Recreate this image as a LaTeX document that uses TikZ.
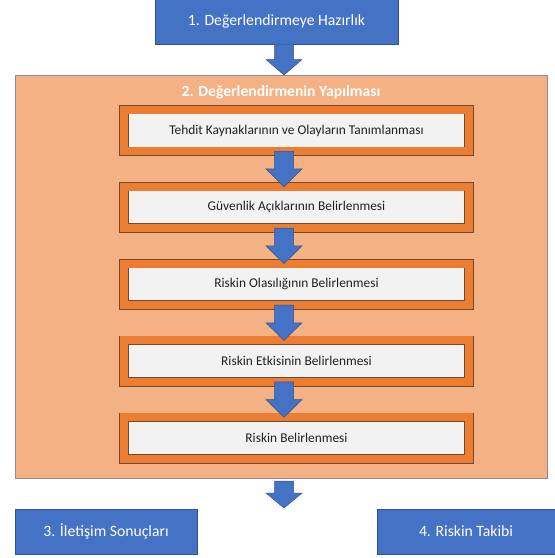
\documentclass[tikz,border=0pt]{standalone}
\usepackage{fontspec}
\setmainfont{Carlito}
\usetikzlibrary{positioning,calc}

\definecolor{phaseblue}{HTML}{4472C4}
\definecolor{phaseedge}{HTML}{2F528F}
\definecolor{peach}{HTML}{F4B183}
\definecolor{peachedge}{HTML}{8C8C8C}
\definecolor{stepframe}{HTML}{ED7D31}
\definecolor{stepedge}{HTML}{6E4B36}
\definecolor{stepfill}{HTML}{F2F2F2}
\definecolor{steptext}{HTML}{202020}

\tikzset{
  phase/.style={draw=phaseedge, line width=0.8pt, fill=phaseblue, text=white,
    font=\fontsize{15.7}{18}\selectfont, outer sep=0pt},
  phasebig/.style={draw=peachedge, line width=0.8pt, fill=peach, outer sep=0pt},
  phasetitle/.style={text=white, font=\bfseries\fontsize{15.6}{18}\selectfont},
  stepbox/.style={draw=stepedge, line width=0.7pt, double=stepframe,
    double distance=8pt, fill=stepfill, text=steptext,
    minimum width=345pt, minimum height=41.5pt, outer sep=0pt,
    font=\fontsize{13.4}{16}\selectfont},
  blkarrow/.style={fill=phaseblue, draw=phaseedge, line width=0.5pt}
}

% block arrow from the bottom of #1 down onto #2
\newcommand{\blkarrow}[2]{%
  \fill[blkarrow] let \p1=(spine |- #1.south), \p2=(spine |- #2.north),
    \n1={(\y1+\y2)/2} in
    (\x1-9.5pt,\y1) -- (\x1+9.5pt,\y1) -- (\x1+9.5pt,\n1) -- (\x1+18pt,\n1)
    -- (\x1,\y2) -- (\x1-18pt,\n1) -- (\x1-9.5pt,\n1) -- cycle;}

\begin{document}
\begin{tikzpicture}[x=1pt, y=-1pt, node distance=35.4pt]
\useasboundingbox (0,0) rectangle (555,558);
\coordinate (spine) at (284,0);

\node[phase, minimum width=243pt, minimum height=46pt] (p1) at (276.5,21) {1. Değerlendirmeye Hazırlık};
\node[phasebig, minimum width=532pt, minimum height=403pt] (p2) at (281,276.5) {};
\node[phasetitle, below=7pt of p2.north] (t2) {2. Değerlendirmenin Yapılması};

\node[stepbox] (s1) at (296.5,130.5) {Tehdit Kaynaklarının ve Olayların Tanımlanması};
\node[stepbox, below=of s1] (s2) {Güvenlik Açıklarının Belirlenmesi};
\node[stepbox, below=of s2] (s3) {Riskin Olasılığının Belirlenmesi};
\node[stepbox, below=of s3] (s4) {Riskin Etkisinin Belirlenmesi};
\node[stepbox, below=of s4] (s5) {Riskin Belirlenmesi};

\node[phase, minimum width=182pt, minimum height=45pt] (p3) at (106,531.5) {3. İletişim Sonuçları};
\node[phase, minimum width=178pt, minimum height=45pt] (p4) at (466,531.5) {4. Riskin Takibi};
\coordinate (out) at (284,508);

\blkarrow{p1}{p2}
\blkarrow{s1}{s2}
\blkarrow{s2}{s3}
\blkarrow{s3}{s4}
\blkarrow{s4}{s5}
\fill[blkarrow] let \p1=(spine |- p2.south), \p2=(out), \n1={(\y1+\y2)/2} in
  (\x1-9.5pt,\y1-3pt) -- (\x1+9.5pt,\y1-3pt) -- (\x1+9.5pt,\n1) -- (\x1+18pt,\n1)
  -- (\x1,\y2) -- (\x1-18pt,\n1) -- (\x1-9.5pt,\n1) -- cycle;
\end{tikzpicture}
\end{document}
